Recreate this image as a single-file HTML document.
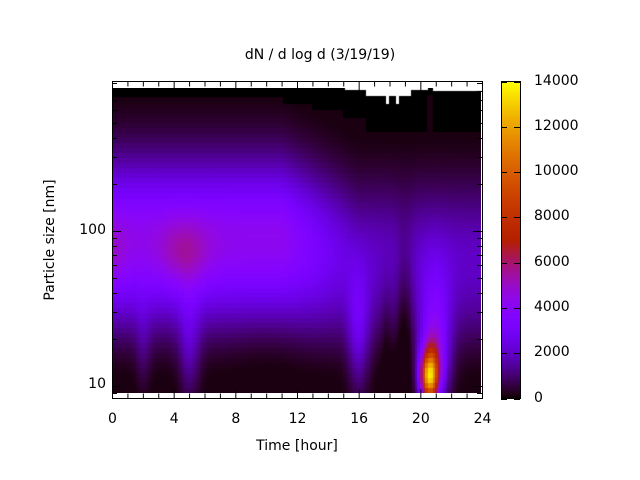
<!DOCTYPE html>
<html><head><meta charset="utf-8"><style>
body{margin:0;background:#fff;width:640px;height:480px;overflow:hidden;position:relative;font-family:"DejaVu Sans","Liberation Sans",sans-serif;}
canvas{position:absolute;}
.t{position:absolute;font-size:14px;color:#000;white-space:nowrap;}
</style></head><body>
<canvas id="hm" width="369" height="305" style="left:112px;top:88px"></canvas>
<canvas id="cb" width="19" height="317" style="left:501px;top:82px"></canvas>
<svg width="640" height="480" style="position:absolute;left:0;top:0" id="ax"></svg>
<div class="t" style="left:0;width:640px;top:47px;text-align:center">dN / d log d (3/19/19)</div>
<div class="t" style="top:438px;text-align:center;padding-left:112px;box-sizing:border-box;width:482px;left:0">Time [hour]</div>
<div class="t" style="left:50px;top:240px;transform:translate(-50%,-50%) rotate(-90deg)">Particle size [nm]</div>
<div class="t" style="right:534px;top:222px">100</div>
<div class="t" style="right:534px;top:376px">10</div>
<div id="lab"></div>
<script>
function pal(x){x=Math.max(0,Math.min(1,x));var r=Math.sqrt(x),g=x*x*x,b=Math.max(0,Math.sin(2*Math.PI*x));return [r*255|0,g*255|0,b*255|0];}
function G(a,m,s){var d=(a-m)/s;return Math.exp(-d*d);}
function z(t,u){
 var A=t<11?4300:4300-2300*Math.min(1,(t-11)/5);
 var mu=t<11?1.95:1.95-0.15*Math.min(1,(t-11)/5);
 var sg=u>mu?0.5:0.55;
 var v=A*G(u,mu,sg);
 v+=1300*G(t,4.7,1.6)*G(u,1.85,0.22);
 v+=700*G(t,0,1.0)*G(u,1.85,0.25);
 v*=1-0.65*G(u,0.95,0.28);
 v*=1-0.5*G(t,10,2.5)*G(u,1.0,0.3);
 v-=1100*G(t,19,0.6)*G(u,1.5,0.5);
 v-=500*G(t,17.8,0.4)*G(u,1.4,0.4);
 v+=1400*G(t,5,0.7)*G(u,1.25,0.35);
 v+=700*G(t,2,0.5)*G(u,1.25,0.3);
 v+=1800*G(t,16,0.7)*G(u,1.35,0.4);
 v+=2600*G(t,21,1.0)*G(u,1.3,0.45);
 v+=3000*G(t,20.8,0.8)*G(u,1.15,0.22);
 v+=9500*G(t,20.6,0.55)*G(u,1.06,0.15);
 if(u>2.5) v=Math.min(v,1500);
 return Math.max(150,v);
}
var c=document.getElementById('hm').getContext('2d');
var W=369,H=305,img=c.createImageData(W,H);
for(var y=0;y<H;y++){var yy=y+88;
 for(var x=0;x<W;x++){var xx=x+112;var t=(xx-112)/369*24;
  var tb=Math.floor(t*6)/6+0.08,ub=(Math.floor((yy-88)/5)*5+90-231)/-155+2;
  var col;
  var blk = t<11.1?97:(t<13?104:(t<15?110:(t<16.5?118:132)));
  var wht = 88;
  if(xx>=345&&xx<366)wht=90; if(xx>=366&&xx<411)wht=96; if((xx>=386&&xx<389)||(xx>=396&&xx<399))wht=104; if(xx>=411&&xx<428)wht=90; if(xx>=433)wht=91;
  if(xx>=427&&xx<433)blk=Math.min(blk,95);
  if(yy<wht)col=[255,255,255];else if(yy<blk)col=[0,0,0];else col=pal(z(tb,ub)/14000);
  var i=(y*W+x)*4;img.data[i]=col[0];img.data[i+1]=col[1];img.data[i+2]=col[2];img.data[i+3]=255;}}
c.putImageData(img,0,0);
var cb=document.getElementById('cb').getContext('2d');
for(var y=0;y<317;y++){var p=pal(1-y/316);cb.fillStyle='rgb('+p+')';cb.fillRect(0,y,19,1);}
var s='<rect x="112.5" y="81.5" width="370" height="317" fill="none" stroke="#000"/>';
s+='<rect x="501.5" y="81.5" width="19" height="317" fill="none" stroke="#000"/>';
for(var h=0;h<=24;h++){var x=112.5+h*370/24;var L=h%4==0?9:5;s+='<line x1="'+x+'" y1="398.5" x2="'+x+'" y2="'+(398.5-L)+'" stroke="#000"/><line x1="'+x+'" y1="81.5" x2="'+x+'" y2="'+(81.5+L)+'" stroke="#000"/>';}
var dec=[1,10,100];for(var k=0;k<3;k++)for(var m=1;m<10;m++){var v=Math.log10(dec[k]*m);var y=231-(v-2)*155;if(y<82||y>398)continue;var L=m==1?9:5;y=Math.round(y)+0.5;s+='<line x1="112" y1="'+y+'" x2="'+(112+L)+'" y2="'+y+'" stroke="#000"/><line x1="482" y1="'+y+'" x2="'+(482-L)+'" y2="'+y+'" stroke="#000"/>';}
for(var k=0;k<=7;k++){var y=Math.round(398.5-k*317/7)+0.5;s+='<line x1="501" y1="'+y+'" x2="507" y2="'+y+'" stroke="#000"/><line x1="520" y1="'+y+'" x2="514" y2="'+y+'" stroke="#000"/>';}
document.getElementById('ax').innerHTML=s;
var lb='';for(var h=0;h<=24;h+=4){lb+='<div class="t" style="left:'+(112.5+h*370/24-20)+'px;width:40px;text-align:center;top:411px">'+h+'</div>';}
for(var k=0;k<=7;k++){lb+='<div class="t" style="left:534px;top:'+(398.5-k*317/7-9)+'px">'+(k*2000)+'</div>';}
document.getElementById('lab').innerHTML=lb;
</script>
</body></html>
